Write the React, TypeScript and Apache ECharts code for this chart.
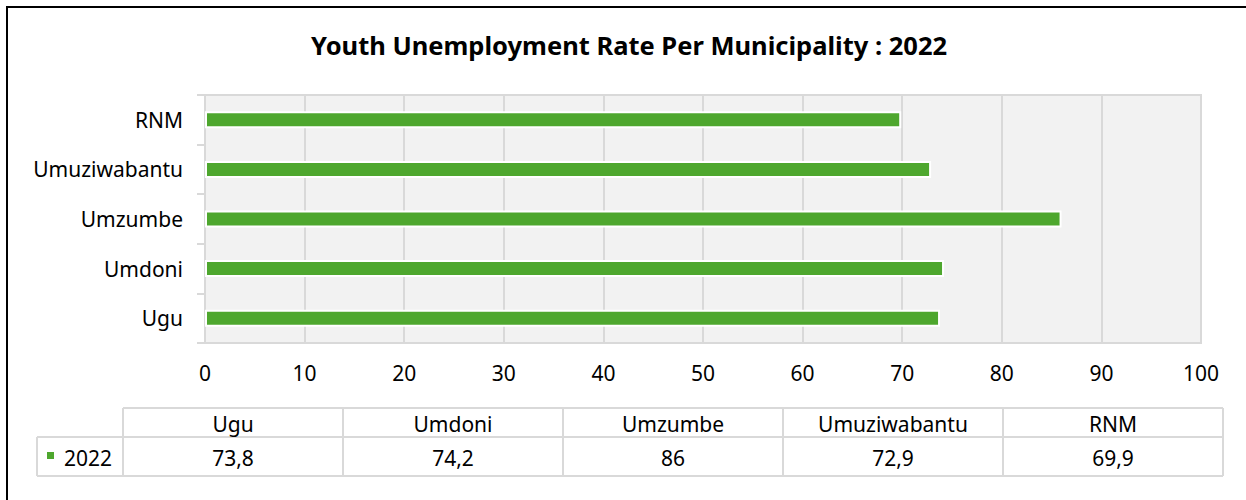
import React, { useEffect, useRef } from "react";
import * as echarts from "echarts";

const categories = ["Ugu", "Umdoni", "Umzumbe", "Umuziwabantu", "RNM"];
const values2022 = [73.8, 74.2, 86, 72.9, 69.9];
const seriesName = "2022";
const xTicks = { min: 0, max: 100, interval: 10 };
const titleText = "Youth Unemployment Rate Per Municipality : 2022";

const GREEN = "#4ea72e";
const LINE = "#d9d9d9";
const FONT = "'Noto Sans', 'Open Sans', sans-serif";
const FS = 21;

function fmt(v: number) {
  return String(v).replace(".", ",");
}

export default function App() {
  const ref = useRef<HTMLDivElement>(null);
  useEffect(() => {
    document.body.style.margin = "0";
    const chart = echarts.init(ref.current!, null, { renderer: "svg" });

    const tLeft = 123;
    const colW = 220;
    const rowLabelLeft = 37;
    const r0 = 408;
    const r1 = 437;
    const r2 = 476;
    const tRight = tLeft + colW * categories.length;
    const g: any[] = [];
    const ls = { stroke: LINE, lineWidth: 2 };
    g.push({ type: "rect", shape: { x: 7, y: 7, width: 1260, height: 520 }, style: { fill: "none", stroke: "#000", lineWidth: 2 }, silent: true });
    g.push({ type: "line", shape: { x1: tLeft, y1: r0, x2: tRight, y2: r0 }, style: ls });
    g.push({ type: "line", shape: { x1: rowLabelLeft, y1: r1, x2: tRight, y2: r1 }, style: ls });
    g.push({ type: "line", shape: { x1: rowLabelLeft, y1: r2, x2: tRight, y2: r2 }, style: ls });
    g.push({ type: "line", shape: { x1: rowLabelLeft, y1: r1, x2: rowLabelLeft, y2: r2 }, style: ls });
    for (let i = 0; i <= categories.length; i++) {
      const x = tLeft + i * colW;
      g.push({ type: "line", shape: { x1: x, y1: r0, x2: x, y2: r2 }, style: ls });
    }
    categories.forEach((c, i) => {
      const cx = tLeft + i * colW + colW / 2;
      g.push({ type: "text", x: cx, y: (r0 + r1) / 2 + 1, style: { text: c, fill: "#000", font: `${FS}px ${FONT}`, align: "center", verticalAlign: "middle" } });
      g.push({ type: "text", x: cx, y: (r1 + r2) / 2 + 1, style: { text: fmt(values2022[i]), fill: "#000", font: `${FS}px ${FONT}`, align: "center", verticalAlign: "middle" } });
    });
    g.push({ type: "rect", shape: { x: 47, y: 452, width: 7, height: 7 }, style: { fill: GREEN } });
    g.push({ type: "text", x: 64, y: (r1 + r2) / 2 + 1, style: { text: seriesName, fill: "#000", font: `${FS}px ${FONT}`, align: "left", verticalAlign: "middle" } });

    chart.setOption({
      animation: false,
      backgroundColor: "#fff",
      title: {
        text: titleText,
        left: 624,
        textAlign: "center",
        top: 27,
        textStyle: { fontFamily: FONT, fontWeight: "bold", fontSize: 25.5, color: "#000" },
      },
      grid: {
        left: 205,
        right: 45,
        top: 95,
        height: 248,
        show: true,
        backgroundColor: "#f2f2f2",
        borderColor: LINE,
        borderWidth: 2,
        containLabel: false,
      },
      xAxis: {
        type: "value",
        min: xTicks.min,
        max: xTicks.max,
        interval: xTicks.interval,
        axisLine: { show: false },
        axisTick: { show: false },
        splitLine: { show: true, lineStyle: { color: LINE, width: 2 } },
        axisLabel: { fontFamily: FONT, fontSize: FS, color: "#000", margin: 19 },
      },
      yAxis: {
        type: "category",
        data: categories,
        axisLine: { show: true, lineStyle: { color: LINE, width: 2 } },
        axisTick: { show: true, length: 8, lineStyle: { color: LINE, width: 2 } },
        axisLabel: { fontFamily: FONT, fontSize: FS, color: "#000", margin: 22 },
      },
      series: [
        {
          name: seriesName,
          type: "bar",
          data: values2022,
          barWidth: 17,
          itemStyle: { color: GREEN, borderColor: "#fff", borderWidth: 2 },
        },
      ],
      graphic: g,
    });
    return () => chart.dispose();
  }, []);
  return <div ref={ref} style={{ position: "absolute", left: 0, top: 0, width: 1246, height: 500 }} />;
}
